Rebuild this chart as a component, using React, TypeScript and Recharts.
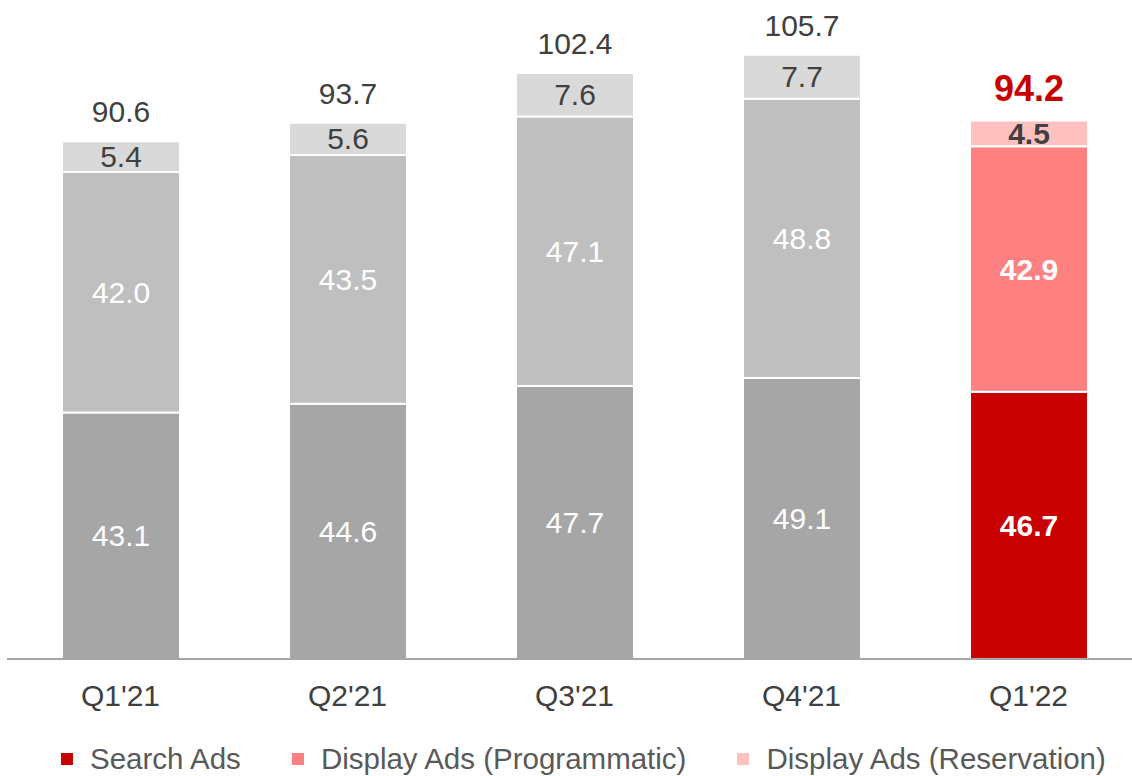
import { Bar, BarChart, Cell, LabelList, XAxis, YAxis } from "recharts";

const categories = ["Q1'21", "Q2'21", "Q3'21", "Q4'21", "Q1'22"];
const searchAds = [43.1, 44.6, 47.7, 49.1, 46.7];
const programmaticAds = [42.0, 43.5, 47.1, 48.8, 42.9];
const reservationAds = [5.4, 5.6, 7.6, 7.7, 4.5];
const totals = [90.6, 93.7, 102.4, 105.7, 94.2];

// the latest quarter is drawn in red, the history in greys
const HIGHLIGHT = 4;
const GREYS = { search: "#A6A6A6", programmatic: "#BFBFBF", reservation: "#D9D9D9" };
const REDS = { search: "#C80000", programmatic: "#FF8080", reservation: "#FFC0C0" };
const TEXT = "#404040";
const FONT = "'Liberation Sans', Arial, sans-serif";

const data = categories.map((name, i) => ({
  name,
  search: searchAds[i],
  programmatic: programmaticAds[i],
  reservation: reservationAds[i],
  total: totals[i],
}));

type SeriesKey = "search" | "programmatic" | "reservation";

const legendItems: { key: SeriesKey; label: string }[] = [
  { key: "search", label: "Search Ads" },
  { key: "programmatic", label: "Display Ads (Programmatic)" },
  { key: "reservation", label: "Display Ads (Reservation)" },
];

function innerLabel(color: string) {
  return (props: any) => {
    const { x, y, width, height, value, index } = props;
    const bold = index === HIGHLIGHT;
    return (
      <text
        x={Number(x) + Number(width) / 2}
        y={Number(y) + Number(height) / 2}
        textAnchor="middle"
        dominantBaseline="central"
        fill={color}
        fontFamily={FONT}
        fontSize={30}
        fontWeight={bold ? 700 : 400}
      >
        {Number(value).toFixed(1)}
      </text>
    );
  };
}

function totalLabel(props: any) {
  const { x, y, width, value, index } = props;
  const bold = index === HIGHLIGHT;
  return (
    <text
      x={Number(x) + Number(width) / 2}
      y={Number(y) - (bold ? 20 : 19)}
      textAnchor="middle"
      fill={bold ? REDS.search : TEXT}
      fontFamily={FONT}
      fontSize={bold ? 36 : 30}
      fontWeight={bold ? 700 : 400}
    >
      {Number(value).toFixed(1)}
    </text>
  );
}

function series(key: SeriesKey, labelColor: string, withTotal = false) {
  return (
    <Bar
      key={key}
      dataKey={key}
      stackId="ads"
      barSize={118}
      stroke="#FFFFFF"
      strokeWidth={2}
      isAnimationActive={false}
    >
      {data.map((d, i) => (
        <Cell key={d.name} fill={i === HIGHLIGHT ? REDS[key] : GREYS[key]} />
      ))}
      <LabelList dataKey={key} content={innerLabel(labelColor)} />
      {withTotal && <LabelList dataKey="total" content={totalLabel} />}
    </Bar>
  );
}

export default function App() {
  return (
    <div
      style={{
        position: "absolute",
        left: 0,
        top: 0,
        width: 1132,
        height: 776,
        overflow: "hidden",
        background: "#FFFFFF",
        fontFamily: FONT,
      }}
    >
      <BarChart
        width={1145}
        height={776}
        data={data}
        margin={{ top: 1, right: 3, bottom: 57, left: 7 }}
      >
        <YAxis hide domain={[0, 115]} />
        {series("search", "#FFFFFF")}
        {series("programmatic", "#FFFFFF")}
        {series("reservation", TEXT, true)}
        <XAxis
          dataKey="name"
          height={60}
          tickLine={false}
          tickSize={0}
          tickMargin={26}
          axisLine={{ stroke: "#A6A6A6", strokeWidth: 2 }}
          tick={{ fill: TEXT, fontSize: 30, fontFamily: FONT }}
        />
      </BarChart>
      <div
        style={{
          position: "absolute",
          left: 61,
          top: 741,
          height: 36,
          display: "flex",
          alignItems: "center",
          gap: 51,
          fontSize: 29.5,
          color: "#595959",
          whiteSpace: "nowrap",
        }}
      >
        {legendItems.map((item) => (
          <div key={item.key} style={{ display: "flex", alignItems: "center" }}>
            <span
              style={{
                display: "inline-block",
                width: 12,
                height: 12,
                marginRight: 17,
                background: REDS[item.key],
              }}
            />
            <span>{item.label}</span>
          </div>
        ))}
      </div>
    </div>
  );
}
